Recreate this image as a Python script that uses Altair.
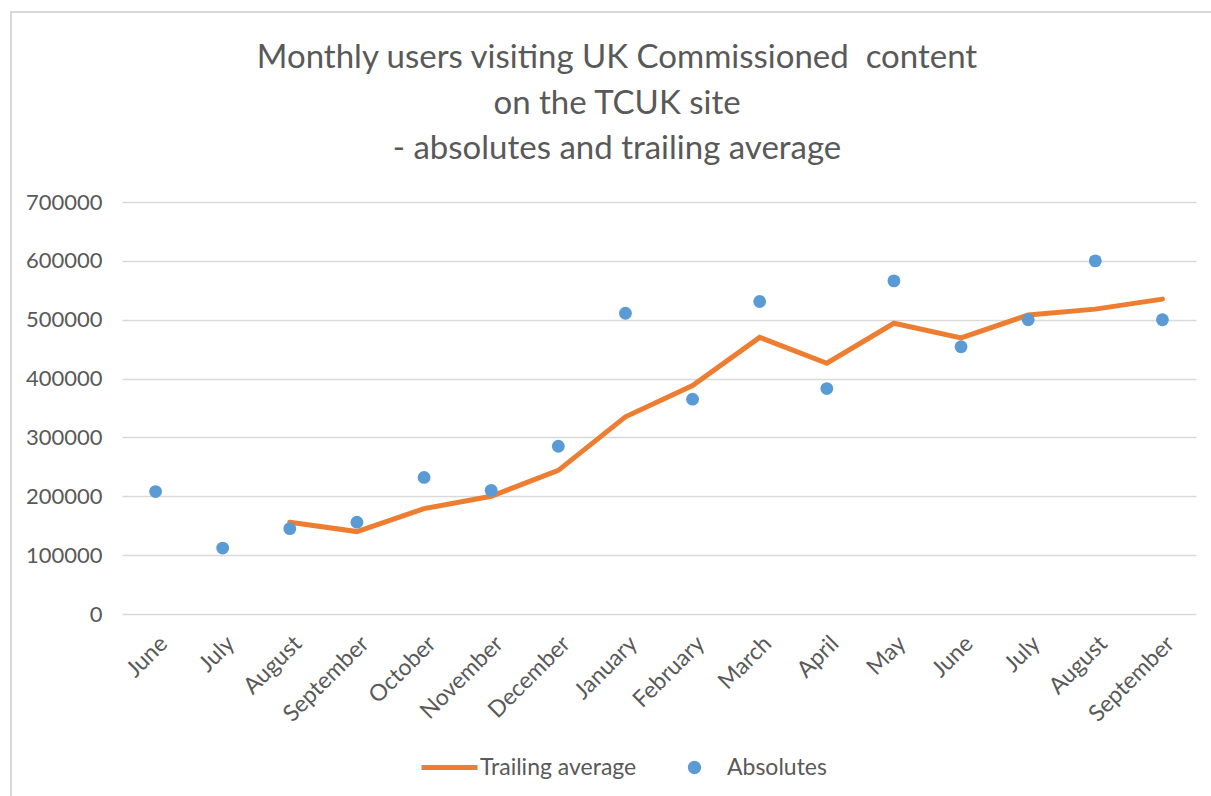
import altair as alt
import pandas as pd

months = ["June", "July", "August", "September", "October", "November", "December",
          "January", "February", "March", "April", "May", "June", "July", "August", "September"]
absolutes = [208000, 112000, 145000, 156000, 232000, 210000, 285000, 511000,
             365000, 531000, 383000, 566000, 454000, 500000, 600000, 500000]
trailing = [None, None, 156000, 140000, 179000, 200000, 244000, 335000,
            388000, 470000, 426000, 494000, 469000, 508000, 518000, 535000]

title_lines = ["Monthly users visiting UK Commissioned\u00a0 content",
               "on the TCUK site",
               "- absolutes and trailing average"]

FONT = "Lato"
GRAY = "#595959"
ORANGE = "#ED7D31"
BLUE = "#5B9BD5"

df = pd.DataFrame({"idx": list(range(len(months))), "month": months, "abs": absolutes})
df_abs = df.assign(series="Absolutes")
df_tr = pd.DataFrame({"idx": [i for i, v in enumerate(trailing) if v is not None],
                      "avg": [v for v in trailing if v is not None]}).assign(series="Trailing average")

label_expr = "[" + ",".join("'" + m + "'" for m in months) + "][datum.value]"

W, H = 1074, 412
PL, PT = 122, 202

x_enc = alt.X("idx:O", title=None,
              scale=alt.Scale(type="point", padding=0.5),
              axis=alt.Axis(labelExpr=label_expr, labelAngle=-45, labelFontSize=23,
                            labelColor=GRAY, labelFont=FONT, domain=False, ticks=False,
                            labelPadding=18, grid=False))
y_scale = alt.Scale(domain=[0, 700000], nice=False)

line = alt.Chart(df_tr).mark_line(strokeWidth=5, strokeCap="round", strokeJoin="miter").encode(
    x=x_enc,
    y=alt.Y("avg:Q", scale=y_scale, title=None,
            axis=alt.Axis(values=list(range(0, 700001, 100000)), format="d",
                          labelFontSize=22, labelColor=GRAY, labelFont=FONT,
                          domain=False, ticks=False, labelPadding=20,
                          gridColor="#D9D9D9", gridWidth=1.3)),
    color=alt.Color("series:N",
                    scale=alt.Scale(domain=["Trailing average"], range=[ORANGE]),
                    legend=alt.Legend(title=None, orient="none", legendX=297, legendY=535,
                                      symbolType="stroke", symbolSize=3136,
                                      symbolStrokeWidth=5, labelFontSize=23,
                                      labelColor=GRAY, labelFont=FONT, labelOffset=0,
                                      padding=0)),
)

points = alt.Chart(df_abs).mark_point(filled=True, size=165, opacity=1).encode(
    x=x_enc,
    y=alt.Y("abs:Q", scale=y_scale),
    fill=alt.Fill("series:N",
                  scale=alt.Scale(domain=["Absolutes"], range=[BLUE]),
                  legend=alt.Legend(title=None, orient="none", legendX=561, legendY=554,
                                    symbolType="circle", symbolSize=177,
                                    labelFontSize=23, labelColor=GRAY, labelFont=FONT,
                                    labelOffset=21, padding=0)),
)

frame = alt.Chart(pd.DataFrame({"a": [0]})).mark_rect(
    fill=None, stroke="#D9D9D9", strokeWidth=2).encode(
    x=alt.value(11 - PL), x2=alt.value(1211 - PL + 30),
    y=alt.value(12 - PT), y2=alt.value(796 - PT + 30))

chart = alt.layer(frame, line, points).properties(
    width=W, height=H,
    autosize=alt.AutoSizeParams(type="none"),
    padding={"left": PL, "top": PT, "right": 1211 - PL - W, "bottom": 796 - PT - H},
    title=alt.TitleParams(text=title_lines, fontSize=33, lineHeight=45.5, color=GRAY,
                          font=FONT, fontWeight="normal", anchor="middle", dx=-42,
                          offset=-155, frame="group"),
).configure(background="white").configure_view(stroke=None)

chart.save("out.html", embed_options={"renderer": "svg", "actions": False})
